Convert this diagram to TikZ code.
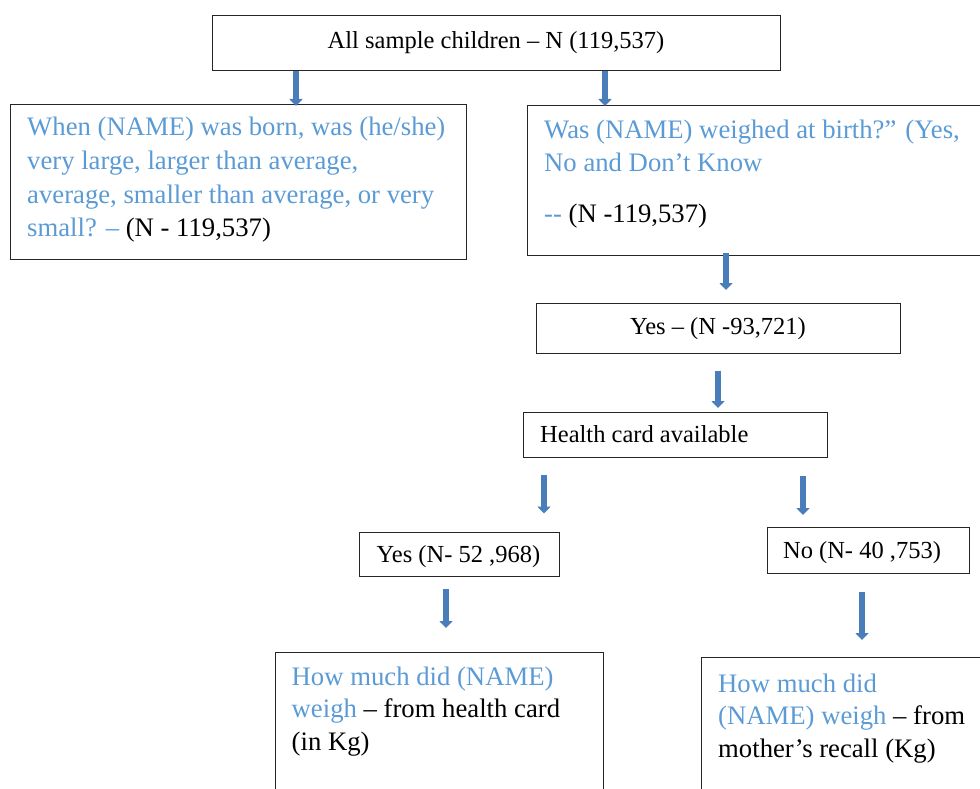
\documentclass[tikz,border=0pt]{standalone}
\usepackage{fontspec}
\setmainfont{Liberation Serif}
\usetikzlibrary{arrows.meta}
\definecolor{qblue}{HTML}{5B9BD5}
\definecolor{arrowblue}{HTML}{4A7EBB}
\begin{document}
\begin{tikzpicture}[x=1pt,y=-1pt,
  box/.style={draw=black!85, line width=1pt, rectangle, inner sep=0pt, anchor=north west},
  small/.style={font=\fontsize{24.5}{30}\selectfont, inner sep=0pt},
  big/.style={font=\fontsize{26.7}{33.5}\selectfont, inner sep=0pt, align=left, anchor=base west},
  bigtight/.style={big, font=\fontsize{26.7}{32.5}\selectfont},
  flow/.style={line width=6pt, draw=arrowblue, -{Triangle[width=13pt,length=7pt]}}]
\useasboundingbox (0,0) rectangle (980,789);
\clip (0,0) rectangle (980,789);
% boxes
\node[box, minimum width=568, minimum height=55] (top) at (212,15) {};
\node[box, minimum width=456.5, minimum height=154] (q1) at (9.5,104.5) {};
\node[box, minimum width=470, minimum height=149] (q2) at (527,105.5) {};
\node[box, minimum width=364, minimum height=49.5] (yes) at (536,303) {};
\node[box, minimum width=304, minimum height=45] (hc) at (523,412) {};
\node[box, minimum width=200, minimum height=44] (y1) at (358.5,531.5) {};
\node[box, minimum width=202, minimum height=45.5] (n1) at (767,527) {};
\node[box, minimum width=328, minimum height=160] (h1) at (274.5,652) {};
\node[box, minimum width=300, minimum height=160] (h2) at (701,657) {};
% texts (anchored at the baseline of the last line)
\node[small, anchor=base] (toptext) at (496,49) {All sample children – N (119,537)};
\node[big] (q1t) at (27,236.5) {\textcolor{qblue}{When (NAME) was born, was (he/she)}\\
  \textcolor{qblue}{very large, larger than average,}\\
  \textcolor{qblue}{average, smaller than average, or very}\\
  \textcolor{qblue}{small? –} (N - 119,537)};
\node[big] (q2t) at (544,222) {\textcolor{qblue}{Was (NAME) weighed at birth?” (Yes,}\\
  \textcolor{qblue}{No and Don’t Know}\\[17pt]
  \textcolor{qblue}{-{}-} (N -119,537)};
\node[small, anchor=base] (yestext) at (718,334) {Yes – (N -93,721)};
\node[small, anchor=base west] (hctext) at (540,442) {Health card available};
\node[small, anchor=base] (y1text) at (458.5,562) {Yes (N- 52 ,968)};
\node[small, anchor=base] (n1text) at (862,558) {No (N- 40 ,753)};
\node[bigtight] (h1t) at (291.5,750) {\textcolor{qblue}{How much did (NAME)}\\
  \textcolor{qblue}{weigh} – from health card\\
  (in Kg)};
\node[bigtight] (h2t) at (718,757) {\textcolor{qblue}{How much did}\\
  \textcolor{qblue}{(NAME) weigh} – from\\
  mother’s recall (Kg)};
% arrows
\draw[flow, shorten >=-1.5pt] (top.south -| 296,0) -- (q1.north -| 296,0);
\draw[flow, shorten >=-0.5pt] (top.south -| 605,0) -- (q2.north -| 605,0);
\draw[flow, shorten <=-3pt, shorten >=13pt] (q2.south -| 726,0) -- (yes.north -| 726,0);
\draw[flow, shorten <=17pt, shorten >=4pt] (yes.south -| 718,0) -- (hc.north -| 718,0);
\draw[flow, shorten <=17pt, shorten >=18pt] (hc.south -| 544,0) -- (y1.north -| 544,0);
\draw[flow, shorten <=18pt, shorten >=12pt] (hc.south -| 803,0) -- (n1.north -| 803,0);
\draw[flow, shorten <=12.5pt, shorten >=24pt] (y1.south -| 446,0) -- (h1.north -| 446,0);
\draw[flow, shorten <=18pt, shorten >=17pt] (n1.south -| 862,0) -- (h2.north -| 862,0);
\end{tikzpicture}
\end{document}
